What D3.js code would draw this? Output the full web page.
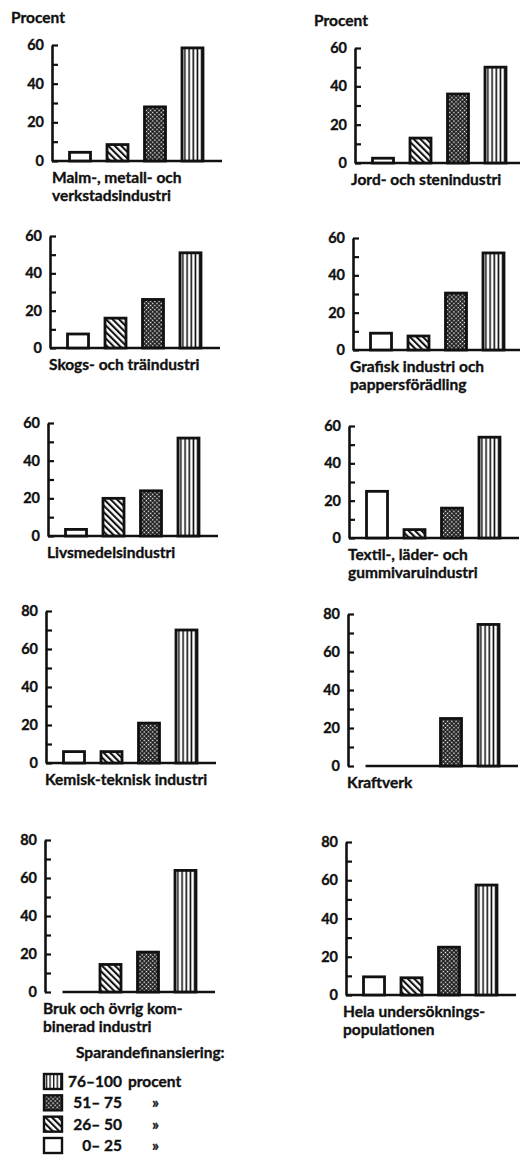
<!DOCTYPE html>
<html>
<head>
<meta charset="utf-8">
<script src="https://cdn.jsdelivr.net/npm/d3@7"></script>
<style>
  html, body { margin: 0; padding: 0; background: #fff; }
  text { font-family: 'Lato', 'DejaVu Sans', sans-serif; font-weight: 700; fill: #111; stroke: #111; stroke-width: 0.35px; }
</style>
</head>
<body>
<svg id="chart" width="520" height="1169"></svg>
<script>
// panels, read left to right, top to bottom
const categories = [
  "Malm-, metall- och\nverkstadsindustri",
  "Jord- och stenindustri",
  "Skogs- och träindustri",
  "Grafisk industri och\npappersförädling",
  "Livsmedelsindustri",
  "Textil-, läder- och\ngummivaruindustri",
  "Kemisk-teknisk industri",
  "Kraftverk",
  "Bruk och övrig kom-\nbinerad industri",
  "Hela undersöknings-\npopulationen"
];

// share of firms (percent) by degree of savings financing
const classes = ["0–25", "26–50", "51–75", "76–100"];
const share0to25   = [4.5, 2.5, 7.5, 9,    3.5, 25,  6,  0,    0,    9.5];
const share26to50  = [8.5, 13,  16,  7.5,  20,  4.5, 6,  0,    14.5, 9];
const share51to75  = [28,  36,  26,  30.5, 24,  16,  21, 25,   21,   25];
const share76to100 = [58.5, 50, 51,  52,   52,  54,  70, 74.5, 64,   57.5];

const axisMax = [60, 60, 60, 60, 60, 60, 80, 80, 80, 80];
const majorTicks60 = [0, 20, 40, 60];
const majorTicks80 = [0, 20, 40, 60, 80];

const legendRanges = ["76–100", "51– 75", "26– 50", "0– 25"];
const legendUnits = ["procent", "»", "»", "»"];
const legendClasses = ["76–100", "51–75", "26–50", "0–25"];

// where each panel sits on the page (scan is slightly skewed)
const layout = [
  { ax: 52,  y0: 161, y1: 45,  tx: 52 },
  { ax: 355, y0: 163, y1: 48,  tx: 351 },
  { ax: 50,  y0: 348, y1: 236, tx: 49 },
  { ax: 353, y0: 350, y1: 238, tx: 350 },
  { ax: 48,  y0: 536, y1: 423, tx: 47 },
  { ax: 349, y0: 538, y1: 426, tx: 348 },
  { ax: 46,  y0: 763, y1: 611, tx: 45 },
  { ax: 348, y0: 766, y1: 614, tx: 347 },
  { ax: 45,  y0: 992, y1: 840, tx: 43 },
  { ax: 346, y0: 995, y1: 842, tx: 343 }
];

const svg = d3.select("#chart");
const defs = svg.append("defs");

// 26-50: diagonal hatching
const hatch = defs.append("pattern")
  .attr("id", "p-26-50")
  .attr("patternUnits", "userSpaceOnUse")
  .attr("width", 4.6).attr("height", 4.6)
  .attr("patternTransform", "rotate(-45)");
hatch.append("rect").attr("width", 4.6).attr("height", 4.6).attr("fill", "#fff");
hatch.append("line")
  .attr("x1", 1).attr("y1", 0).attr("x2", 1).attr("y2", 4.6)
  .attr("stroke", "#111").attr("stroke-width", 2.2);

// 51-75: dense dotted lattice
const dots = defs.append("pattern")
  .attr("id", "p-51-75")
  .attr("patternUnits", "userSpaceOnUse")
  .attr("width", 3).attr("height", 3)
  .attr("patternTransform", "rotate(45)");
dots.append("rect").attr("width", 3).attr("height", 3).attr("fill", "#111");
dots.append("rect").attr("x", 0.8).attr("y", 0.8).attr("width", 1.5).attr("height", 1.5).attr("fill", "#fff");

// 76-100: vertical lines, aligned to each bar
const vert = defs.append("pattern")
  .attr("id", "p-76-100")
  .attr("patternUnits", "objectBoundingBox")
  .attr("patternContentUnits", "objectBoundingBox")
  .attr("width", 0.2).attr("height", 1);
vert.append("rect").attr("width", 0.2).attr("height", 1).attr("fill", "#fff");
vert.append("rect").attr("x", 0.1).attr("width", 0.075).attr("height", 1).attr("fill", "#111");

const fillFor = {
  "0–25": "#fff",
  "26–50": "url(#p-26-50)",
  "51–75": "url(#p-51-75)",
  "76–100": "url(#p-76-100)"
};

categories.forEach((name, i) => {
  const L = layout[i];
  const values = [share0to25[i], share26to50[i], share51to75[i], share76to100[i]];
  const max = axisMax[i];
  const majors = max === 80 ? majorTicks80 : majorTicks60;
  const minors = majors.slice(1).map(d => d - 10);

  const x = d3.scaleBand()
    .domain(classes)
    .range([L.ax, L.ax + 168.5])
    .paddingInner(0.44)
    .paddingOuter(0.467);
  const y = d3.scaleLinear().domain([0, max]).range([L.y0, L.y1]);

  const g = svg.append("g").attr("class", "panel");

  // baseline (starts at first bar when that bar is empty, like the original)
  const bx0 = values[0] === 0 ? x(classes[0]) : L.ax;
  g.append("line")
    .attr("x1", bx0).attr("x2", L.ax + 170)
    .attr("y1", y(0)).attr("y2", y(0))
    .attr("stroke", "#111").attr("stroke-width", 2.6);

  // bars
  g.selectAll("rect.bar")
    .data(classes.map((c, k) => ({ c, v: values[k] })).filter(d => d.v > 0))
    .join("rect")
    .attr("class", "bar")
    .attr("x", d => x(d.c))
    .attr("width", x.bandwidth())
    .attr("y", d => y(d.v))
    .attr("height", d => y(0) - y(d.v))
    .attr("fill", d => fillFor[d.c])
    .attr("stroke", "#111")
    .attr("stroke-width", 2.8);

  // y axis: ticks point inwards, labels on the left
  const axis = d3.axisLeft(y)
    .tickValues(majors.concat(minors))
    .tickSize(-6)
    .tickSizeOuter(0)
    .tickPadding(8)
    .tickFormat(d => (d % 20 === 0 ? d : ""));
  const ag = g.append("g")
    .attr("transform", `translate(${L.ax},0)`)
    .call(axis);
  ag.select(".domain").attr("stroke", "#111").attr("stroke-width", 2.6);
  ag.selectAll(".tick line").attr("stroke", "#111").attr("stroke-width", 2.2);
  ag.selectAll(".tick text")
    .style("font-family", "'Lato', 'DejaVu Sans', sans-serif")
    .style("font-weight", 700)
    .attr("font-size", 14.5)
    .attr("fill", "#111");

  if (i < 2) {
    g.append("text")
      .attr("x", L.ax - 41).attr("y", L.y1 - 22)
      .attr("font-size", 15.5)
      .text("Procent");
  }

  // panel title
  const t = g.append("text")
    .attr("x", L.tx).attr("y", L.y0 + 22)
    .attr("font-size", 15.5);
  name.split("\n").forEach((line, k) => {
    t.append("tspan")
      .attr("x", L.tx)
      .attr("dy", k === 0 ? 0 : 18)
      .text(line);
  });
});

// legend
const lg = svg.append("g").attr("class", "legend");
lg.append("text")
  .attr("x", 76).attr("y", 1058)
  .attr("font-size", 15.5)
  .text("Sparandefinansiering:");

const rowY = d3.scalePoint().domain(legendClasses).range([1082, 1146]);
legendClasses.forEach((c, k) => {
  const cy = rowY(c);
  lg.append("rect")
    .attr("x", 44).attr("y", cy - 8)
    .attr("width", 18).attr("height", 15)
    .attr("fill", fillFor[c])
    .attr("stroke", "#111").attr("stroke-width", 2.4);
  lg.append("text")
    .attr("x", 122).attr("y", cy + 5)
    .attr("text-anchor", "end")
    .attr("font-size", 15.5)
    .text(legendRanges[k]);
  lg.append("text")
    .attr("x", k === 0 ? 128 : 152).attr("y", cy + 5)
    .attr("font-size", 15.5)
    .text(legendUnits[k]);
});
</script>
</body>
</html>
